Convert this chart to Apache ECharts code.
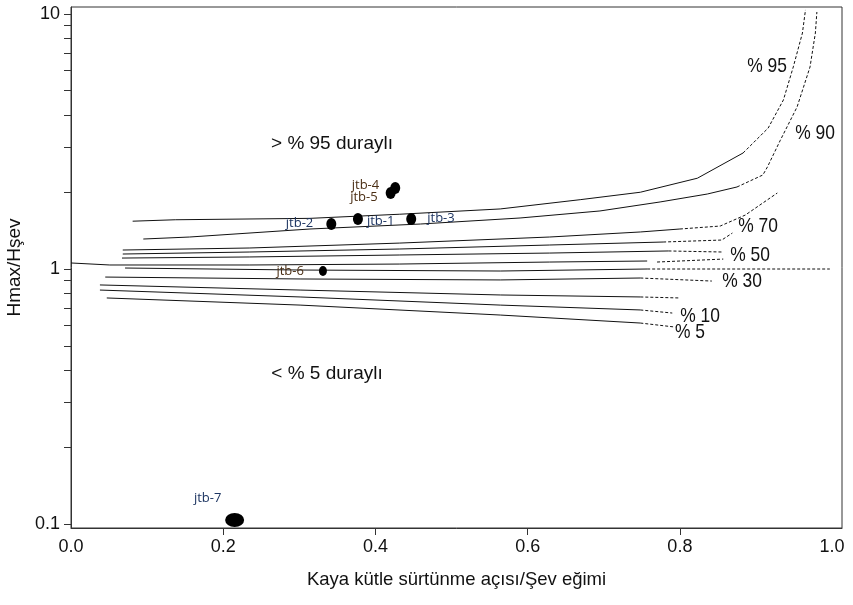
<!DOCTYPE html>
<html><head><meta charset="utf-8">
<script src="https://cdn.jsdelivr.net/npm/echarts@6/dist/echarts.min.js"></script>
<style>html,body{margin:0;padding:0;background:#fff}#chart{width:853px;height:605px}</style>
</head><body><div id="chart"></div>
<script>
// Stability probability curves: solid section, then dashed extension
const p95 = [[0.081,1.54],[0.137,1.56],[0.314,1.58],[0.432,1.64],[0.564,1.72],[0.669,1.87],[0.748,2.00],[0.823,2.27],[0.883,2.85]];
const p95d = [[0.883,2.85],[0.916,3.57],[0.936,4.60],[0.949,6.20],[0.961,8.42],[0.965,10.37]];
const p90 = [[0.095,1.311],[0.156,1.335],[0.314,1.435],[0.459,1.501],[0.590,1.585],[0.695,1.689],[0.774,1.832],[0.836,1.968],[0.875,2.097]];
const p90d = [[0.875,2.097],[0.909,2.337],[0.915,2.512],[0.932,3.20],[0.954,4.32],[0.971,6.20],[0.978,8.42],[0.980,10.18]];
const p80 = [[0.068,1.187],[0.235,1.209],[0.432,1.264],[0.629,1.335],[0.748,1.397],[0.800,1.435]];
const p80d = [[0.800,1.435],[0.853,1.474],[0.886,1.628],[0.928,1.986]];
const p70 = [[0.068,1.145],[0.235,1.166],[0.432,1.198],[0.629,1.242],[0.778,1.276]];
const p70d = [[0.778,1.276],[0.855,1.299],[0.869,1.384]];
const p60 = [[0.067,1.104],[0.235,1.115],[0.432,1.135],[0.629,1.155],[0.785,1.177]];
const p60d = [[0.785,1.177],[0.855,1.166]];
const p50 = [[0.0,1.056],[0.051,1.037],[0.235,1.037],[0.432,1.046],[0.629,1.065],[0.757,1.075]];
const p50d = [[0.770,1.065],[0.857,1.094]];
const p40 = [[0.071,1.009],[0.301,0.991],[0.564,0.982],[0.757,1.0]];
const p40d = [[0.757,1.0],[0.997,1.0]];
const p30 = [[0.045,0.930],[0.301,0.914],[0.564,0.906],[0.748,0.922]];
const p30d = [[0.748,0.922],[0.842,0.897]];
const p20 = [[0.038,0.866],[0.301,0.827],[0.564,0.791],[0.748,0.777]];
const p20d = [[0.748,0.777],[0.800,0.770]];
const p10 = [[0.038,0.827],[0.301,0.777],[0.564,0.722],[0.748,0.691]];
const p10d = [[0.748,0.691],[0.790,0.672]];
const p5 = [[0.047,0.770],[0.301,0.722],[0.564,0.660],[0.748,0.614]];
const p5d = [[0.748,0.614],[0.794,0.592]];

// Measured slopes
const pointNames = ['jtb-1','jtb-2','jtb-3','jtb-4','jtb-5','jtb-6','jtb-7'];
const pointX = [0.377,0.342,0.447,0.426,0.420,0.331,0.215];
const pointY = [1.571,1.501,1.571,2.079,1.986,0.982,0.1037];

// Axis ticks
const xLabels = [0.0,0.2,0.4,0.6,0.8,1.0];
const xTicks = [0.2,0.4,0.6,0.8];
const yLabels = [0.1,1,10];
const yTicks = [0.1,0.2,0.3,0.4,0.5,0.6,0.7,0.8,0.9,1,2,3,4,5,6,7,8,9,10];

const SANS = '"Liberation Sans",Arial,sans-serif';
const LBL = '"Open Sans","Noto Sans",sans-serif';

const solidCurves = [p95,p90,p80,p70,p60,p50,p40,p30,p20,p10,p5];
const dashedCurves = [p95d,p90d,p80d,p70d,p60d,p50d,p40d,p30d,p20d,p10d,p5d];

const series = [];
solidCurves.forEach(d => series.push({
  type:'line', data:d, symbol:'none', silent:true,
  lineStyle:{color:'#111', width:1}
}));
dashedCurves.forEach(d => series.push({
  type:'line', data:d, symbol:'none', silent:true,
  lineStyle:{color:'#111', width:1, type:[3,2]}
}));

// label placement per point
const NAVY = '#1c3461', BROWN = '#4a2e14';
const pointLabel = {
  'jtb-1': {position:'right', distance:4, offset:[0,2], color:NAVY},
  'jtb-2': {position:'left', distance:13, offset:[0,-1], color:NAVY},
  'jtb-3': {position:'right', distance:11, offset:[0,-1], color:NAVY},
  'jtb-4': {position:'left', distance:11, offset:[0,-3], color:BROWN},
  'jtb-5': {position:'left', distance:8, offset:[0,4], color:BROWN},
  'jtb-6': {position:'left', distance:15, offset:[0,0], color:BROWN},
  'jtb-7': {position:'top', distance:8, offset:[-27,0], color:NAVY}
};
const pointSize = {'jtb-6':[8,10],'jtb-7':[19,14]};

series.push({
  type:'scatter', silent:true, z:5,
  data: pointNames.map((n,i) => ({
    name:n, value:[pointX[i], pointY[i]],
    symbolSize: pointSize[n] || [10,12],
    label: Object.assign({show:true, formatter:n, fontFamily:LBL, fontSize:13}, pointLabel[n])
  })),
  itemStyle:{color:'#000', opacity:1}
});

function txt(t, x, y, size, sx){
  return {type:'text', x:x, y:y, scaleX:sx, style:{text:t, font: size+'px '+SANS, fill:'#111', textAlign:'center', textVerticalAlign:'middle'}};
}

const option = {
  animation:false,
  backgroundColor:'#fff',
  grid:{left:71, right:11, top:7, bottom:77, outerBoundsMode:'none', containLabel:false,
        show:true, borderColor:'#333', borderWidth:1},
  xAxis:{
    type:'value', min:0, max:1.013,
    name:'Kaya kütle sürtünme açısı/Şev eğimi', nameLocation:'middle', nameGap:42,
    nameTextStyle:{fontFamily:SANS, fontSize:18.5, color:'#111'},
    axisLine:{lineStyle:{color:'#333'}},
    axisTick:{show:true, customValues:xTicks, length:7, lineStyle:{color:'#333'}},
    axisLabel:{customValues:xLabels, margin:10, fontFamily:SANS, fontSize:18, color:'#111', formatter:v=>v.toFixed(1)},
    splitLine:{show:false}
  },
  yAxis:{
    type:'log', logBase:10, min:0.0965, max:10.65,
    name:'Hmax/Hşev', nameLocation:'middle', nameGap:45, nameRotate:90,
    nameTextStyle:{fontFamily:SANS, fontSize:19, color:'#111'},
    axisLine:{show:true, lineStyle:{color:'#333'}},
    axisTick:{show:true, customValues:yTicks, length:7, lineStyle:{color:'#333'}},
    axisLabel:{customValues:yLabels, margin:11, fontFamily:SANS, fontSize:18, color:'#111', formatter:v=>String(v)},
    splitLine:{show:false}, minorTick:{show:false}
  },
  graphic:[
    txt('> % 95 duraylı', 332, 144, 19, 1),
    txt('< % 5 duraylı', 327, 374, 19, 1),
    txt('% 95', 767, 66, 21, 0.83),
    txt('% 90', 815, 133, 21, 0.83),
    txt('% 70', 758, 226, 21, 0.83),
    txt('% 50', 750, 255, 21, 0.83),
    txt('% 30', 742, 281, 21, 0.83),
    txt('% 10', 700, 316, 21, 0.83),
    txt('% 5', 690, 332, 21, 0.83)
  ],
  series:series
};

const chart = echarts.init(document.getElementById('chart'), null, {renderer:'canvas'});
chart.setOption(option);
</script></body></html>
